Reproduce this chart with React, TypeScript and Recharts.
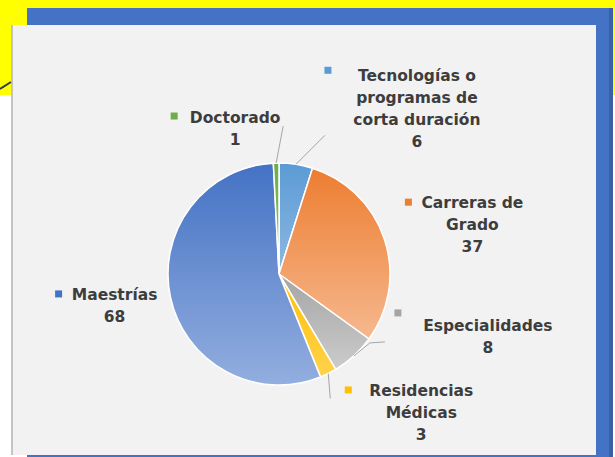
import React from "react";
import { PieChart, Pie, Cell } from "recharts";

const categories = [
  "Tecnologías o programas de corta duración",
  "Carreras de Grado",
  "Especialidades",
  "Residencias Médicas",
  "Maestrías",
  "Doctorado",
];
const labelLines = [
  ["Tecnologías o", "programas de", "corta duración"],
  ["Carreras de", "Grado"],
  ["Especialidades"],
  ["Residencias", "Médicas"],
  ["Maestrías"],
  ["Doctorado"],
];
const values = [6, 37, 8, 3, 68, 1];

const colorsTop = ["#5b9bd5", "#ed7d31", "#a5a5a5", "#ffc000", "#4472c4", "#70ad47"];
const colorsBottom = ["#8db8e2", "#f6b88e", "#cbcbcb", "#ffd24d", "#93aedf", "#8fc46a"];

// label placement relative to the slice's outer mid point (style/layout only)
const labelLayout = [
  { tx: 121, ty: -88, sx: 32, sy: -94, line: [[0, 0], [29, -29]] },
  { tx: 88, ty: -36, sx: 24, sy: -37, line: [] },
  { tx: 134, ty: -30, sx: 44, sy: -43, line: [[0, 0], [16, -13], [31, -14]] },
  { tx: 93, ty: 17.5, sx: 20, sy: 16.5, line: [[0, 0], [2, 25]] },
  { tx: -56, ty: -3, sx: -112, sy: -4, line: [] },
  { tx: -41, ty: -45, sx: -102, sy: -47, line: [[0, 0], [7, -37]] },
];

const data = categories.map((name, i) => ({ name, value: values[i] }));

const RADIAN = Math.PI / 180;
const FONT = "'DejaVu Sans', sans-serif";

function renderLabel(props: any) {
  const { cx, cy, midAngle, outerRadius, index, value } = props;
  const ox = cx + outerRadius * Math.cos(-midAngle * RADIAN);
  const oy = cy + outerRadius * Math.sin(-midAngle * RADIAN);
  const lay = labelLayout[index];
  const lines = [...labelLines[index], String(value)];
  const pts = lay.line.map((p) => `${ox + p[0]},${oy + p[1]}`).join(" ");
  return (
    <g key={`lbl-${index}`}>
      {lay.line.length > 0 && (
        <polyline points={pts} fill="none" stroke="#a6a6a6" strokeWidth={1} />
      )}
      <rect
        x={ox + lay.sx - 3.5}
        y={oy + lay.sy - 3.5}
        width={7}
        height={7}
        fill={colorsTop[index]}
      />
      {lines.map((t, j) => (
        <text
          key={j}
          x={ox + lay.tx}
          y={oy + lay.ty + j * 22}
          textAnchor="middle"
          dominantBaseline="central"
          fontFamily={FONT}
          fontWeight={700}
          fontSize={15.5}
          fill="#3d3d3d"
        >
          {t}
        </text>
      ))}
    </g>
  );
}

export default function App() {
  return (
    <div style={{ position: "absolute", left: 0, top: 0, width: 615, height: 457, background: "#ffffff", overflow: "hidden" }}>
      <div style={{ position: "absolute", left: 0, top: 0, width: 615, height: 95, background: "#ffff00" }} />
      <div style={{ position: "absolute", left: 27, top: 8, width: 586, height: 449, background: "#4472c4" }} />
      <div style={{ position: "absolute", left: 609, top: 8, width: 4, height: 449, background: "#3a5fa3" }} />
      <div style={{ position: "absolute", left: 11, top: 25, width: 585, height: 430, background: "#f2f2f2", borderLeft: "2px solid #c4c4c4", boxSizing: "border-box" }} />
      <svg width={615} height={457} style={{ position: "absolute", left: 0, top: 0 }}>
        <defs>
          {colorsTop.map((c, i) => (
            <linearGradient key={i} id={`grad${i}`} x1="0" y1="0" x2="0" y2="1">
              <stop offset="0%" stopColor={c} />
              <stop offset="100%" stopColor={colorsBottom[i]} />
            </linearGradient>
          ))}
        </defs>
        <line x1={0} y1={89} x2={11} y2={82} stroke="#2e3a50" strokeWidth={2} />
      </svg>
      <div style={{ position: "absolute", left: 0, top: 0 }}>
        <PieChart width={615} height={457} margin={{ top: 0, right: 0, bottom: 0, left: 0 }}>
          <Pie
            data={data}
            dataKey="value"
            nameKey="name"
            cx={279}
            cy={274}
            outerRadius={111}
            startAngle={90}
            endAngle={-270}
            stroke="#ffffff"
            strokeWidth={1.5}
            label={renderLabel}
            labelLine={false}
            isAnimationActive={false}
          >
            {data.map((d, i) => (
              <Cell key={d.name} fill={`url(#grad${i})`} />
            ))}
          </Pie>
        </PieChart>
      </div>
    </div>
  );
}
